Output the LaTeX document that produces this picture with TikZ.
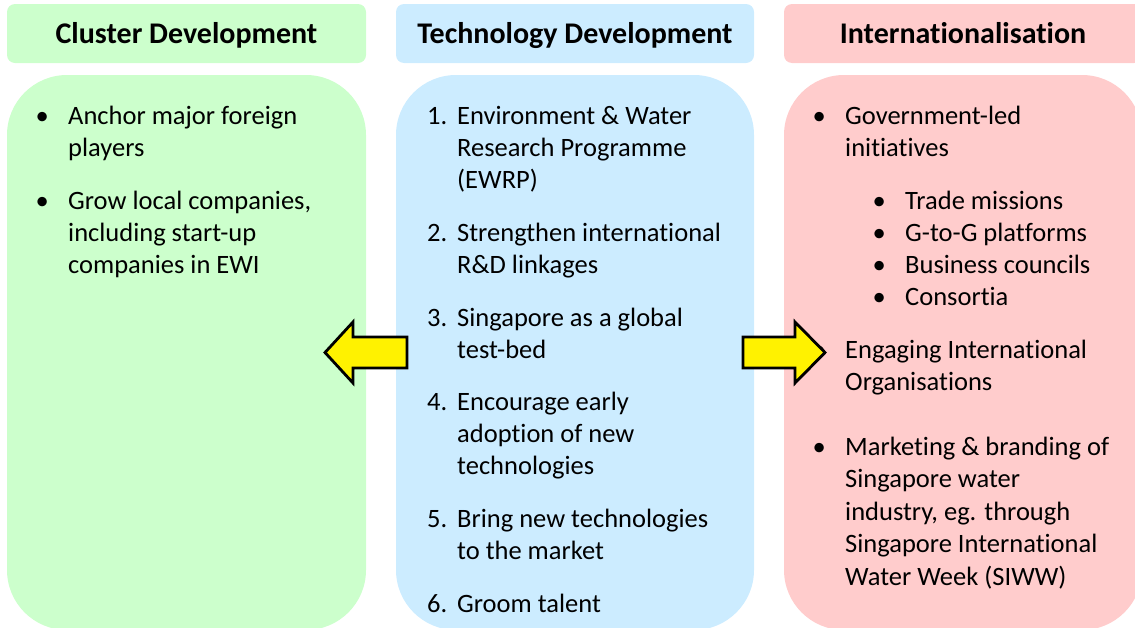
\documentclass[tikz,border=0pt]{standalone}
\usepackage{fontspec}
\setmainfont{Carlito}[Ligatures=NoCommon]
\usepackage{tikz}
\usetikzlibrary{positioning}
\definecolor{grn}{HTML}{CCFFCC}
\definecolor{blu}{HTML}{CCECFF}
\definecolor{pnk}{HTML}{FFCCCC}
\newcommand{\blt}{\llap{\makebox[0pt][c]{\textbullet}\hspace{26pt}}}
\newcommand{\nmb}[1]{\llap{\makebox[30pt][l]{#1.}}}

\begin{document}
\begin{tikzpicture}[x=1pt,y=-1pt,
		head/.style={rounded corners=8pt, minimum height=59pt, text height=19pt, text depth=0pt, font=\bfseries\fontsize{30}{36}\selectfont},
		body/.style={rounded corners=60pt, minimum height=555pt},
		itm/.style={anchor=base west, align=left, inner sep=0pt, yshift=-2pt, font=\fontsize{26.5}{32}\selectfont},
		blk/.style={fill=yellow, draw=black, line width=2.8pt, line join=miter}]
		\useasboundingbox (0,0) rectangle (1135,627);
		\clip (0,0) rectangle (1135,627);
		%Titoli
		\node (hc) [head, fill=grn, minimum width=359pt] at (186.5,33.5) {Cluster Development};
		\node (ht) [head, fill=blu, minimum width=358pt] at (575,33.5) {Technology Development};
		\node (hi) [head, fill=pnk, minimum width=358pt] at (963,33.5) {};
		\node (hit) [head] at (963,33.5) {Internationalisation};
		%Riquadri
		\node (bc) [body, fill=grn, minimum width=359pt] at (186.5,352.5) {};
		\node (bt) [body, fill=blu, minimum width=358pt] at (575,352.5) {};
		\node (bi) [body, fill=pnk, minimum width=358pt] at (963,352.5) {};
		%Cluster (base = last line)
		\node (c1) [itm] at (68,154) {\blt Anchor major foreign\\players};
		\node (c2) [itm] at (68,271) {\blt Grow local companies,\\including start-up\\companies in EWI};
		%Technology
		\node (t1) [itm] at (457,186) {\nmb{1}Environment \& Water\\Research Programme\\(EWRP)};
		\node (t2) [itm] at (457,271) {\nmb{2}Strengthen international\\R\&D linkages};
		\node (t3) [itm] at (457,356) {\nmb{3}Singapore as a global\\test-bed};
		\node (t4) [itm] at (457,472) {\nmb{4}Encourage early\\adoption of new\\technologies};
		\node (t5) [itm] at (457,557) {\nmb{5}Bring new technologies\\to the market};
		\node (t6) [itm] at (457,610) {\nmb{6}Groom talent};
		%Internationalisation
		\node (i1) [itm] at (845,154) {\blt Government-led\\initiatives};
		\node (s1) [itm] at (905,207) {\blt Trade missions};
		\node (s2) [itm] at (905,239) {\blt G-to-G platforms};
		\node (s3) [itm] at (905,271) {\blt Business councils};
		\node (s4) [itm] at (905,303) {\blt Consortia};
		\node (i2) [itm] at (845,388) {\blt Engaging International\\Organisations};
		\node (i3) [itm, font=\fontsize{26.5}{32.5}\selectfont] at (845,583) {\blt Marketing \& branding of\\Singapore water\\industry, eg. through\\Singapore International\\Water Week (SIWW)};
		%Frecce
		\draw [blk] (407,337) -- (353,337) -- (353,322) -- (325,352.5) -- (353,383) -- (353,368) -- (407,368) -- cycle;
		\draw [blk] (743,337) -- (795,337) -- (795,322) -- (825,352.5) -- (795,383) -- (795,368) -- (743,368) -- cycle;
	\end{tikzpicture}
\end{document}
